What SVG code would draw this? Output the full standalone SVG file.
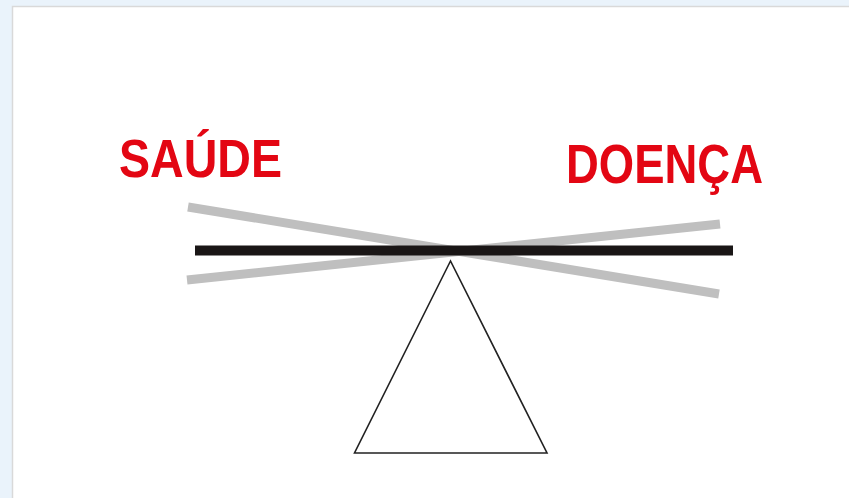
<svg xmlns="http://www.w3.org/2000/svg" width="849" height="498" viewBox="0 0 849 498">
<style>
.lbl{font-family:"Liberation Sans",Arial,sans-serif;font-weight:bold;fill:#e30613;font-size:54px}
.gray{stroke:#bfbfbf;stroke-width:9;fill:none}
</style>
<rect x="0" y="0" width="849" height="498" fill="#eaf3fb"/>
<rect x="12.5" y="6.5" width="845" height="500" fill="#ffffff" stroke="#d9d9d9" stroke-width="1.5"/>
<g id="connectors">
<line class="gray" x1="188" y1="207" x2="719" y2="294"/>
<line class="gray" x1="187" y1="280" x2="720" y2="224"/>
<line x1="195" y1="250.5" x2="733" y2="250.5" stroke="#1a1616" stroke-width="10"/>
</g>
<g id="fulcrum">
<polygon points="450.5,261 354.5,453 547,453" fill="#ffffff" stroke="#222222" stroke-width="1.6"/>
</g>
<g id="saude">
<text class="lbl" x="119" y="177" textLength="163" lengthAdjust="spacingAndGlyphs">SAÚDE</text>
</g>
<g id="doenca">
<text class="lbl" x="566" y="183" font-size="56" textLength="197" lengthAdjust="spacingAndGlyphs" style="font-size:56px">DOENÇA</text>
</g>
</svg>
